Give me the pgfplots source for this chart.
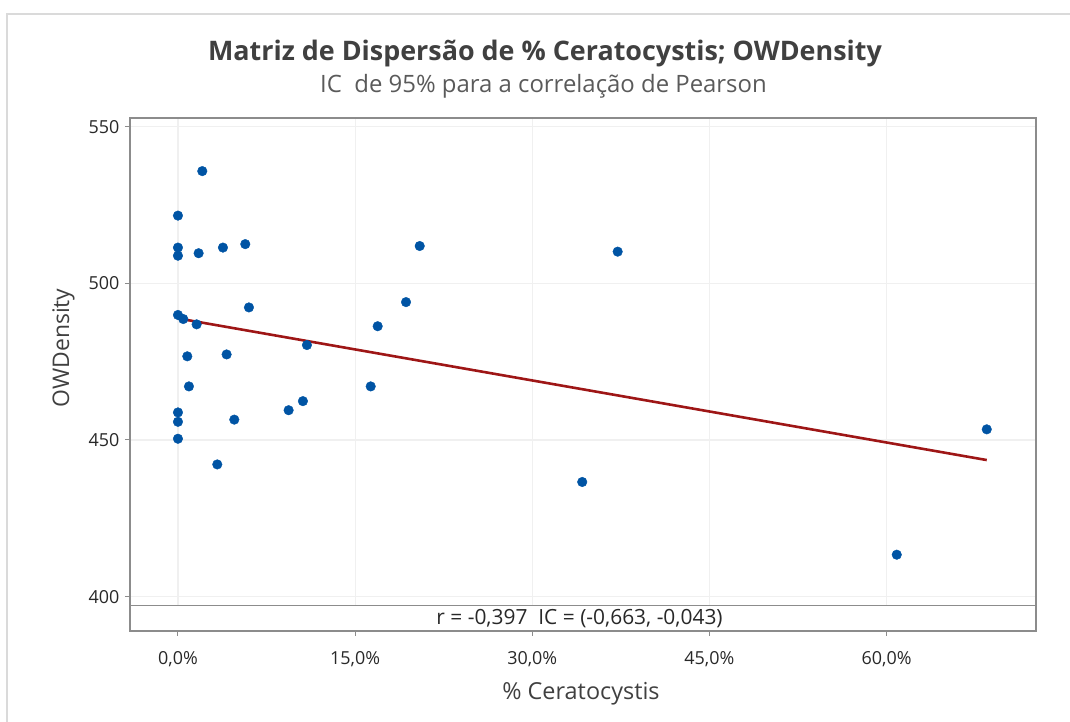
\documentclass[border=0pt]{standalone}
\usepackage{pgfplots}
\pgfplotsset{compat=1.18}
\usepackage{fontspec}
\setmainfont{Open Sans}
\definecolor{ptblue}{RGB}{0,84,164}
\definecolor{fitred}{RGB}{158,22,22}
\definecolor{framegray}{RGB}{140,140,140}
\definecolor{gridgray}{RGB}{240,240,240}
\definecolor{outergray}{RGB}{218,218,218}
\definecolor{txt}{RGB}{40,40,40}
\definecolor{ttl}{RGB}{64,64,64}
\definecolor{sub}{RGB}{90,90,90}
\pgfplotstableread{
x y
2.06 535.8
0 521.6
0 511.4
0 508.8
1.75 509.6
3.81 511.4
5.70 512.5
20.47 511.9
0 489.9
0.45 488.6
1.58 486.9
6.01 492.3
10.92 480.3
19.31 494.0
16.91 486.3
0.79 476.7
4.12 477.3
0.93 467.1
16.32 467.1
0 458.8
0 455.8
0 450.4
4.77 456.5
9.37 459.5
10.58 462.4
3.33 442.2
37.23 510.1
34.23 436.6
68.48 453.4
60.86 413.4
}\pts
\begin{document}
\begin{tikzpicture}
\useasboundingbox (0bp,0bp) rectangle (1070bp,722bp);
\draw[outergray, line width=2bp] (7bp,0bp) -- (7bp,708bp) -- (1070bp,708bp);
\node[anchor=base, text=ttl, font=\fontsize{27}{32}\selectfont\bfseries] at (545bp,661bp) {Matriz de Dispersão de \% Ceratocystis; OWDensity};
\node[anchor=base, text=sub, font=\fontsize{24}{28}\selectfont] at (543.5bp,629bp) {IC\ \ de 95\% para a correlação de Pearson};
\begin{axis}[
  at={(130bp,91bp)}, anchor=south west,
  width=906bp, height=513bp, scale only axis,
  xmin=-4.06, xmax=72.65, ymin=389.05, ymax=552.75,
  xtick={0,15,30,45,60},
  xticklabels={{0,0\%},{15,0\%},{30,0\%},{45,0\%},{60,0\%}},
  ytick={400,450,500,550},
  xtick pos=left, ytick pos=left,
  tick align=outside,
  major tick length=5bp,
  tick style={framegray, line width=1bp},
  axis line style={framegray, line width=1.6bp},
  grid=major,
  major grid style={gridgray, line width=1.2bp},
  tick label style={text=txt, font=\fontsize{18}{21}\selectfont},
  /pgf/number format/assume math mode=true,
  xticklabel style={yshift=-12bp},
  yticklabel style={xshift=-2bp},
]
\addplot[only marks, mark=*, mark size=4.8bp, mark options={draw=ptblue, fill=ptblue}] table[x=x,y=y] {\pts};
\addplot[fitred, line width=2.6bp] coordinates {(0,488.8) (68.48,443.6)};
\fill[white] (rel axis cs:0,0) rectangle (axis cs:72.65,397.2);
\draw[framegray, line width=1.6bp] (axis cs:-4.06,397.2) -- (axis cs:72.65,397.2);
\draw[framegray, line width=1.6bp] (rel axis cs:0,0) rectangle (rel axis cs:1,1);
\node[text=txt, font=\fontsize{21}{25}\selectfont] at (axis cs:34.0,393.1) {r = -0,397\ \ IC = (-0,663, -0,043)};
\end{axis}
\node[anchor=base, text=ttl, font=\fontsize{23.5}{28}\selectfont] at (581bp,23bp) {\% Ceratocystis};
\node[anchor=base, text=ttl, font=\fontsize{23}{28}\selectfont, rotate=90] at (69bp,374bp) {OWDensity};
\end{tikzpicture}
\end{document}
